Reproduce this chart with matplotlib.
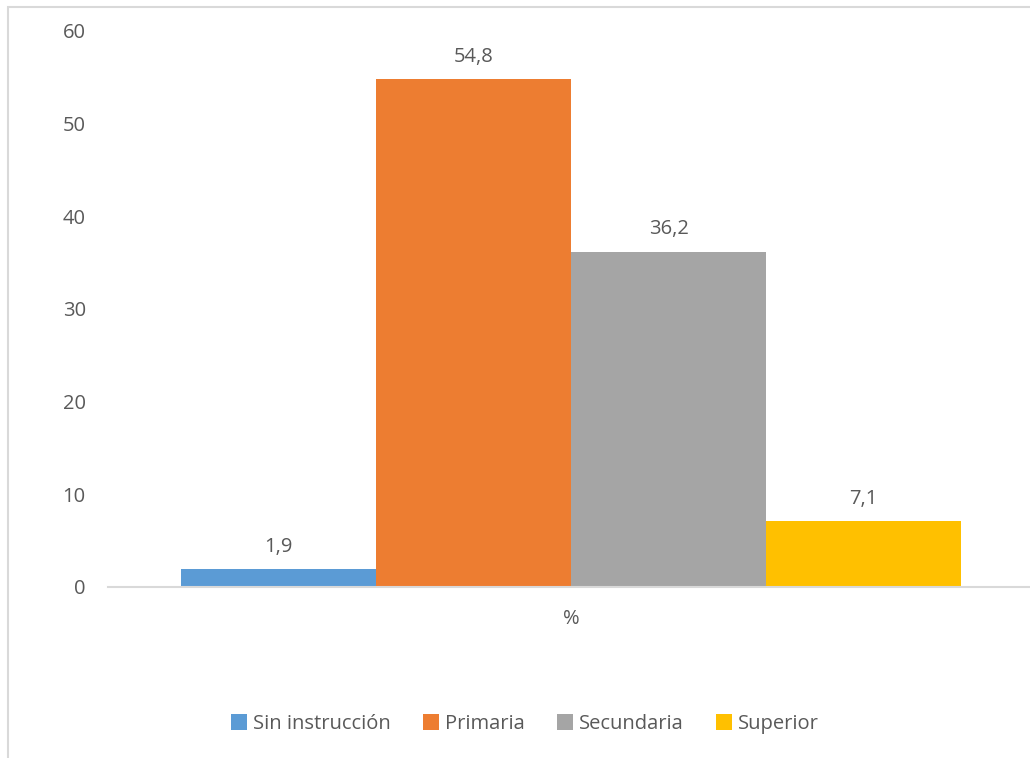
import matplotlib.pyplot as plt
from matplotlib.patches import Rectangle

categories = ['Sin instrucción', 'Primaria', 'Secundaria', 'Superior']
values = [1.9, 54.8, 36.2, 7.1]
value_labels = ['1,9', '54,8', '36,2', '7,1']
colors = ['#5B9BD5', '#ED7D31', '#A5A5A5', '#FFC000']
yticks = [0, 10, 20, 30, 40, 50, 60]
x_label = '%'

plt.rcParams['font.family'] = ['Open Sans', 'DejaVu Sans']
text_color = '#595959'
fs = 14.5

fig = plt.figure(figsize=(10.3, 7.58), dpi=100)
ax = fig.add_axes([108 / 1030, 1 - 587 / 758, 926 / 1030, 556 / 758])

# outer chart border (only left and top visible in the crop)
fig.patches.append(Rectangle((8 / 1030, -0.1), 1.2, 1 - 7 / 758 + 0.1,
                             transform=fig.transFigure, fill=False,
                             edgecolor='#D9D9D9', linewidth=1.5))

w = 780 / 926 / 4
for i, (cat, v, lab, c) in enumerate(zip(categories, values, value_labels, colors)):
    x = (i - 1.5) * w
    ax.bar(x, v, width=w, color=c, label=cat)
    ax.annotate(lab, (x, v), xytext=(0, 9), textcoords='offset points',
                ha='center', va='bottom', fontsize=fs, color=text_color)

ax.set_xlim(-0.5, 0.5)
ax.set_ylim(0, 60)
ax.set_yticks(yticks)
ax.set_yticklabels([str(t) for t in yticks], fontsize=fs, color=text_color)
ax.set_xticks([0])
ax.set_xticklabels([x_label], fontsize=fs, color=text_color)
ax.tick_params(axis='both', length=0)
ax.tick_params(axis='y', pad=16)
ax.tick_params(axis='x', pad=16)

for s in ['top', 'right', 'left']:
    ax.spines[s].set_visible(False)
ax.spines['bottom'].set_color('#D9D9D9')
ax.spines['bottom'].set_linewidth(1.5)

ax.legend(loc='center', bbox_to_anchor=(525 / 1030, 1 - 724 / 758),
          bbox_transform=fig.transFigure, ncol=4, frameon=False,
          fontsize=fs, handlelength=0.8, handleheight=0.8,
          handletextpad=0.3, columnspacing=1.6, labelcolor=text_color)

fig.savefig('out.png', dpi=100)
